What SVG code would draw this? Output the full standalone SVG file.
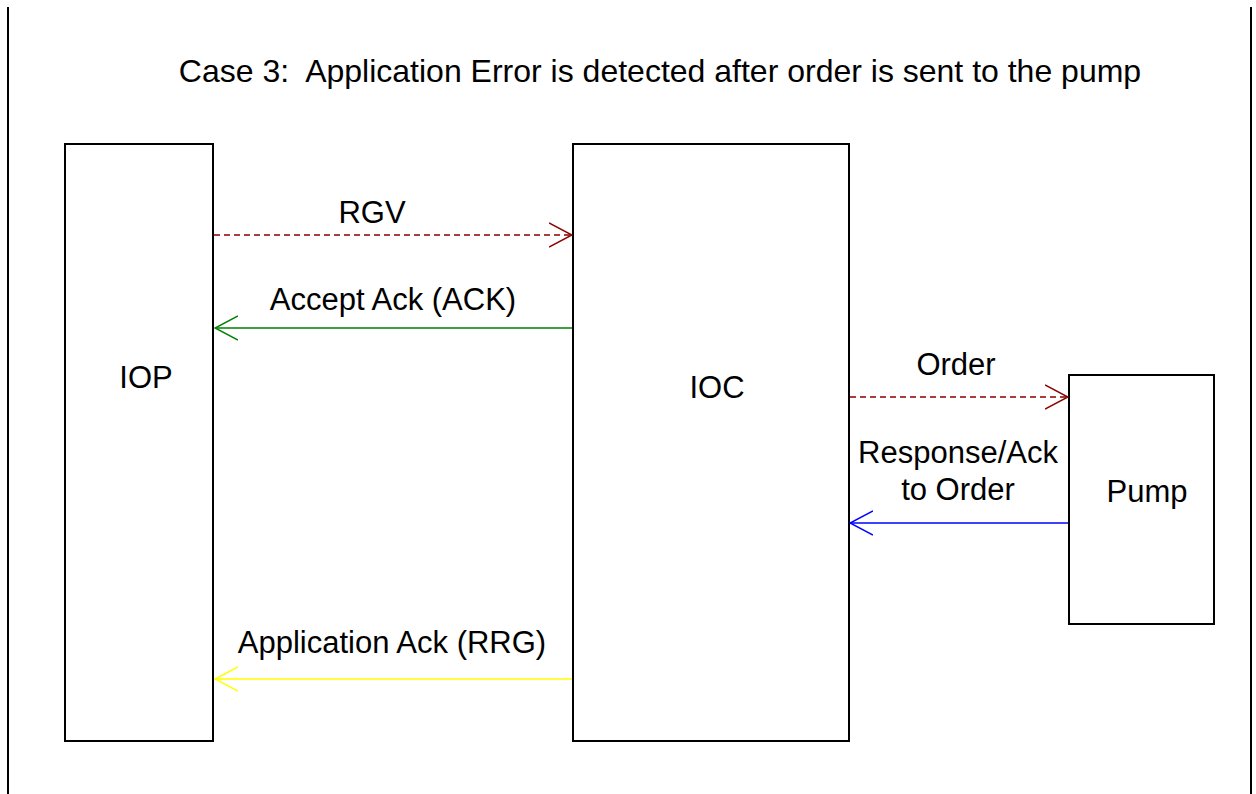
<svg xmlns="http://www.w3.org/2000/svg" width="1256" height="794" viewBox="0 0 1256 794">
<style>
  text { font-family: "Liberation Sans", Arial, sans-serif; font-size: 31px; fill: #000; text-anchor: middle; }
  .title { font-size: 32px; }
  .box { fill: #fff; stroke: #000; stroke-width: 2; }
  .border { stroke: #000; stroke-width: 2; fill: none; }
  .conn { fill: none; stroke-width: 1.5; }
</style>
<defs>
  <marker id="ahRed" viewBox="0 0 24 26" refX="23" refY="13" markerWidth="24" markerHeight="26" markerUnits="userSpaceOnUse" orient="auto">
    <path d="M0,1 L23,13 L0,25" fill="none" stroke="#8B0000" stroke-width="1.5"/>
  </marker>
  <marker id="ahGreen" viewBox="0 0 24 26" refX="23" refY="13" markerWidth="24" markerHeight="26" markerUnits="userSpaceOnUse" orient="auto">
    <path d="M0,1 L23,13 L0,25" fill="none" stroke="#008000" stroke-width="1.5"/>
  </marker>
  <marker id="ahBlue" viewBox="0 0 24 26" refX="23" refY="13" markerWidth="24" markerHeight="26" markerUnits="userSpaceOnUse" orient="auto">
    <path d="M0,1 L23,13 L0,25" fill="none" stroke="#0000FF" stroke-width="1.5"/>
  </marker>
  <marker id="ahYellow" viewBox="0 0 24 26" refX="23" refY="13" markerWidth="24" markerHeight="26" markerUnits="userSpaceOnUse" orient="auto">
    <path d="M0,1 L23,13 L0,25" fill="none" stroke="#FFFF00" stroke-width="1.5"/>
  </marker>
</defs>
<rect width="1256" height="794" fill="#fff"/>
<line class="border" x1="8" y1="7" x2="8" y2="794"/>
<line class="border" x1="1251" y1="7" x2="1251" y2="794"/>
<text class="title" x="660" y="82" xml:space="preserve">Case 3:  Application Error is detected after order is sent to the pump</text>

<g id="iop">
  <rect class="box" x="65" y="144" width="148" height="597"/>
  <text x="146" y="388">IOP</text>
</g>
<g id="ioc">
  <rect class="box" x="573" y="144" width="276" height="597"/>
  <text x="717" y="398">IOC</text>
</g>
<g id="pump">
  <rect class="box" x="1069" y="375" width="145" height="249"/>
  <text x="1147" y="502">Pump</text>
</g>

<g id="connectors">
  <line class="conn" x1="214" y1="235" x2="572" y2="235" stroke="#8B0000" stroke-dasharray="6,4" marker-end="url(#ahRed)"/>
  <text x="372" y="223">RGV</text>
  <line class="conn" x1="572" y1="328" x2="215" y2="328" stroke="#008000" marker-end="url(#ahGreen)"/>
  <text x="393" y="310">Accept Ack (ACK)</text>
  <line class="conn" x1="850" y1="397" x2="1068" y2="397" stroke="#8B0000" stroke-dasharray="6,4" marker-end="url(#ahRed)"/>
  <text x="956" y="375">Order</text>
  <line class="conn" x1="1068" y1="523" x2="850" y2="523" stroke="#0000FF" marker-end="url(#ahBlue)"/>
  <text x="958" y="463">Response/Ack</text>
  <text x="958" y="500">to Order</text>
  <line class="conn" x1="572" y1="679" x2="215" y2="679" stroke="#FFFF00" marker-end="url(#ahYellow)"/>
  <text x="392" y="653">Application Ack (RRG)</text>
</g>
</svg>
